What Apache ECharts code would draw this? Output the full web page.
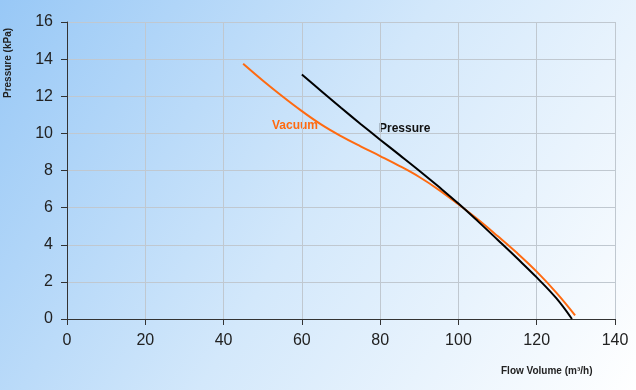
<!DOCTYPE html>
<html>
<head>
<meta charset="utf-8">
<script src="https://cdn.jsdelivr.net/npm/echarts@6/dist/echarts.min.js"></script>
<style>html,body{margin:0;padding:0;}#c{width:636px;height:390px;}</style>
</head>
<body>
<div id="c"></div>
<script>
const vacuumFlow = [45, 50, 55, 60, 65, 70, 75, 80, 85, 90, 95, 100, 105, 110, 115, 120, 125, 129.8];
const vacuumPressure = [13.75, 12.85, 12.0, 11.2, 10.47, 9.85, 9.3, 8.78, 8.24, 7.65, 6.96, 6.18, 5.36, 4.47, 3.55, 2.55, 1.42, 0.2];
const pressureFlow = [60, 65, 70, 75, 80, 85, 90, 95, 100, 105, 110, 115, 120, 125, 129];
const pressurePressure = [13.17, 12.27, 11.38, 10.51, 9.66, 8.83, 7.99, 7.12, 6.22, 5.26, 4.27, 3.27, 2.24, 1.12, 0.0];
const xTicks = [0, 20, 40, 60, 80, 100, 120, 140];
const yTicks = [0, 2, 4, 6, 8, 10, 12, 14, 16];

const chart = echarts.init(document.getElementById('c'));
const font = '"Liberation Sans", Arial, sans-serif';
chart.setOption({
  animation: false,
  backgroundColor: {
    type: 'linear', x: 0, y: 0, x2: 1, y2: 1,
    colorStops: [
      {offset: 0, color: '#98c8f6'},
      {offset: 0.5, color: '#d3e8fb'},
      {offset: 1, color: '#ffffff'}
    ]
  },
  grid: {left: 67, right: 21, top: 22, bottom: 71},
  xAxis: {
    type: 'value', min: xTicks[0], max: xTicks[xTicks.length - 1], interval: 20,
    axisLine: {show: true, onZero: false, lineStyle: {color: '#333', width: 1}},
    axisTick: {show: true, length: 6, lineStyle: {color: '#333'}},
    axisLabel: {color: '#222', fontSize: 16, fontFamily: font, margin: 14},
    splitLine: {show: true, lineStyle: {color: '#c0c8d0', width: 1}}
  },
  yAxis: {
    type: 'value', min: yTicks[0], max: yTicks[yTicks.length - 1], interval: 2,
    axisLine: {show: true, lineStyle: {color: '#333', width: 1}},
    axisTick: {show: true, length: 6, lineStyle: {color: '#333'}},
    axisLabel: {color: '#222', fontSize: 16, fontFamily: font, margin: 14},
    splitLine: {show: true, lineStyle: {color: '#c0c8d0', width: 1}}
  },
  series: [
    {
      name: 'Vacuum', type: 'line', smooth: 0.4, showSymbol: false,
      data: vacuumFlow.map((x, i) => [x, vacuumPressure[i]]),
      lineStyle: {color: '#ff6a10', width: 2}, itemStyle: {color: '#ff6a10'}
    },
    {
      name: 'Pressure', type: 'line', smooth: 0.4, showSymbol: false,
      data: pressureFlow.map((x, i) => [x, pressurePressure[i]]),
      lineStyle: {color: '#000000', width: 2}, itemStyle: {color: '#000'}
    }
  ],
  graphic: [
    {type: 'text', left: 272, top: 120, style: {text: 'Vacuum', fill: '#ff6a10', font: 'bold 12px ' + font}},
    {type: 'text', left: 379, top: 123, style: {text: 'Pressure', fill: '#111', font: 'bold 12px ' + font, textShadowColor: 'rgba(0,0,0,0.35)', textShadowOffsetX: 1, textShadowOffsetY: 1}},
    {type: 'text', x: 8, y: 63, rotation: Math.PI / 2, style: {text: 'Pressure (kPa)', fill: '#222', font: 'bold 10px ' + font, align: 'center', verticalAlign: 'middle'}},
    {type: 'text', left: 501, top: 366, style: {text: 'Flow Volume (m³/h)', fill: '#222', font: 'bold 10px ' + font}}
  ]
});
</script>
</body>
</html>
